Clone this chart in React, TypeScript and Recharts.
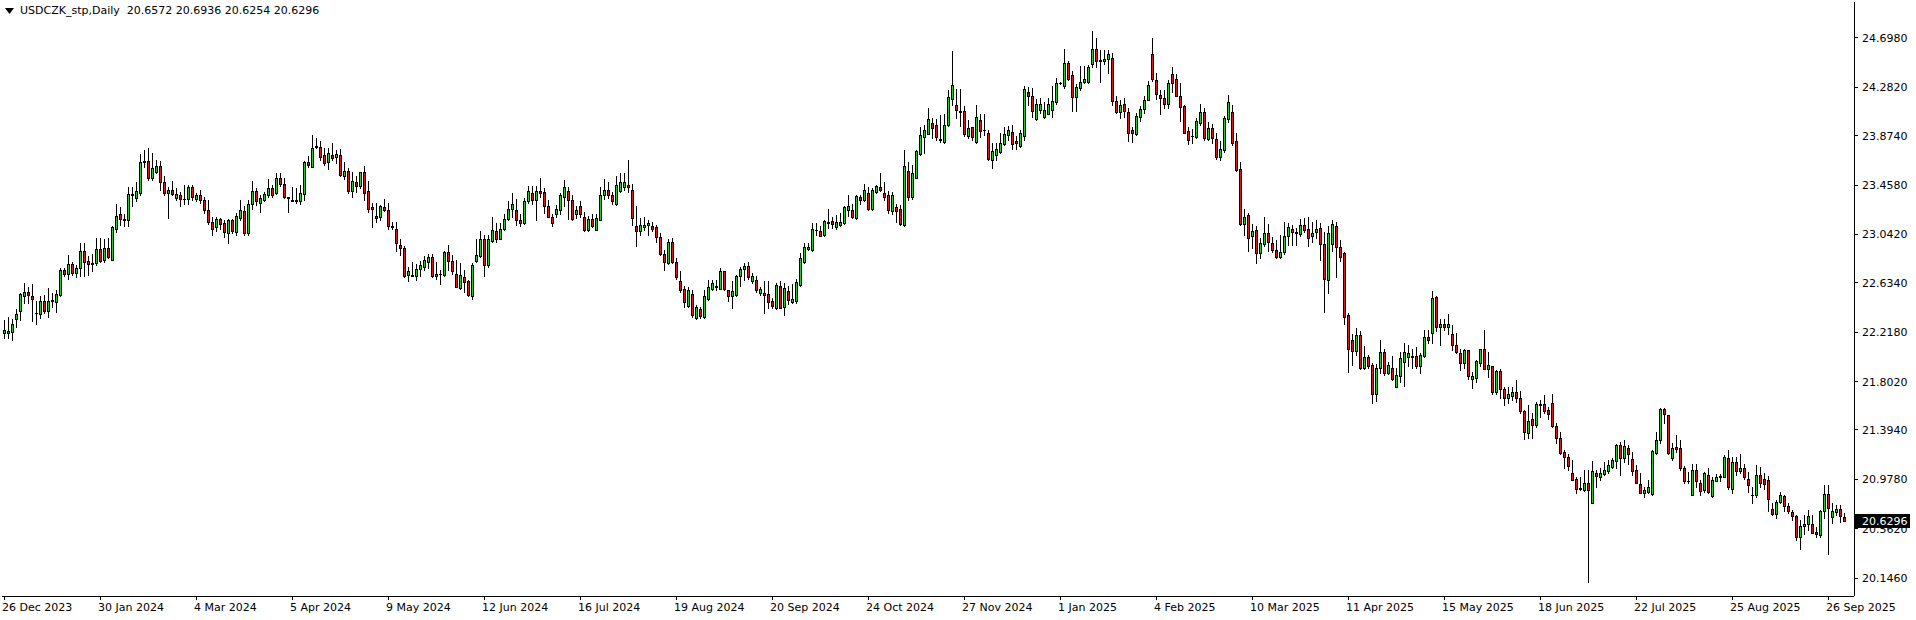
import React from "react";
import { ComposedChart, Bar, XAxis, YAxis } from "recharts";

// USDCZK_stp daily candles: [open, high, low, close]
const ohlc: [number, number, number, number][] = [
  [22.21,22.32,22.17,22.24],[22.21,22.35,22.17,22.23],[22.22,22.33,22.15,22.29],[22.33,22.41,22.26,22.37],[22.40,22.55,22.32,22.54],[22.52,22.63,22.46,22.56],
  [22.56,22.60,22.46,22.53],[22.52,22.62,22.31,22.50],[22.38,22.48,22.29,22.38],[22.37,22.52,22.34,22.48],[22.48,22.53,22.38,22.40],[22.40,22.59,22.35,22.48],
  [22.48,22.55,22.43,22.49],[22.47,22.57,22.39,22.54],[22.53,22.76,22.52,22.74],[22.74,22.76,22.69,22.71],[22.71,22.87,22.67,22.79],[22.79,22.81,22.70,22.72],
  [22.72,22.78,22.68,22.76],[22.76,22.97,22.69,22.90],[22.90,22.97,22.69,22.81],[22.82,22.86,22.70,22.79],[22.79,22.88,22.73,22.80],[22.80,23.01,22.78,22.92],
  [22.92,23.01,22.81,22.82],[22.83,23.00,22.81,22.93],[22.93,23.01,22.84,22.85],[22.83,23.11,22.83,23.10],[23.09,23.30,23.06,23.20],[23.21,23.27,23.12,23.17],
  [23.17,23.21,23.11,23.16],[23.16,23.44,23.11,23.38],[23.375,23.44,23.28,23.385],[23.35,23.48,23.32,23.41],[23.39,23.72,23.37,23.65],[23.65,23.75,23.61,23.66],
  [23.66,23.77,23.50,23.52],[23.52,23.73,23.50,23.60],[23.57,23.67,23.56,23.62],[23.62,23.66,23.42,23.48],[23.48,23.53,23.37,23.39],[23.39,23.44,23.18,23.42],
  [23.42,23.49,23.37,23.38],[23.35,23.43,23.33,23.38],[23.37,23.40,23.28,23.34],[23.34,23.46,23.30,23.34],[23.34,23.46,23.30,23.44],[23.44,23.46,23.33,23.355],
  [23.34,23.39,23.32,23.37],[23.37,23.42,23.31,23.33],[23.33,23.36,23.22,23.25],[23.25,23.33,23.13,23.15],[23.15,23.19,23.04,23.09],[23.10,23.19,23.07,23.17],
  [23.17,23.18,23.09,23.13],[23.14,23.16,23.02,23.06],[23.05,23.17,22.97,23.16],[23.16,23.17,23.05,23.07],[23.06,23.22,23.04,23.20],[23.18,23.33,23.16,23.25],
  [23.24,23.28,23.04,23.05],[23.05,23.33,23.04,23.30],[23.30,23.49,23.26,23.41],[23.41,23.43,23.29,23.32],[23.31,23.37,23.23,23.35],[23.33,23.40,23.32,23.38],
  [23.37,23.51,23.36,23.43],[23.43,23.46,23.36,23.37],[23.39,23.56,23.38,23.52],[23.52,23.56,23.45,23.47],[23.47,23.52,23.35,23.36],[23.355,23.36,23.23,23.35],
  [23.33,23.445,23.32,23.325],[23.33,23.43,23.31,23.32],[23.32,23.46,23.30,23.39],[23.38,23.66,23.33,23.65],[23.65,23.70,23.61,23.63],[23.61,23.88,23.61,23.77],
  [23.78,23.85,23.77,23.79],[23.78,23.83,23.67,23.69],[23.71,23.77,23.63,23.64],[23.65,23.77,23.59,23.73],[23.715,23.81,23.67,23.685],[23.69,23.75,23.64,23.72],
  [23.71,23.76,23.53,23.54],[23.53,23.65,23.51,23.58],[23.58,23.60,23.39,23.41],[23.41,23.57,23.36,23.49],[23.48,23.53,23.40,23.45],[23.45,23.57,23.43,23.57],
  [23.57,23.62,23.33,23.39],[23.41,23.49,23.23,23.26],[23.27,23.31,23.10,23.26],[23.20,23.31,23.15,23.18],[23.19,23.29,23.16,23.28],[23.27,23.34,23.24,23.25],
  [23.25,23.31,23.09,23.11],[23.11,23.15,23.085,23.10],[23.085,23.15,22.90,22.97],[22.953,23.00,22.87,22.925],[22.925,22.94,22.68,22.69],[22.70,22.77,22.65,22.73],
  [22.70,22.81,22.69,22.695],[22.69,22.79,22.66,22.75],[22.75,22.82,22.69,22.78],[22.77,22.86,22.74,22.83],[22.81,22.88,22.76,22.855],[22.85,22.88,22.68,22.69],
  [22.69,22.81,22.67,22.71],[22.709,22.74,22.62,22.705],[22.70,22.90,22.69,22.89],[22.89,22.95,22.74,22.82],[22.82,22.87,22.71,22.73],[22.71,22.83,22.60,22.60],
  [22.59,22.80,22.585,22.70],[22.68,22.74,22.56,22.64],[22.65,22.66,22.52,22.53],[22.52,22.80,22.50,22.785],[22.82,23.00,22.81,22.87],[22.86,23.07,22.855,23.00],
  [23.00,23.04,22.69,22.785],[22.785,23.04,22.77,23.00],[22.99,23.19,22.98,23.08],[23.07,23.14,22.98,23.00],[23.00,23.14,23.00,23.09],[23.09,23.21,23.08,23.17],
  [23.17,23.32,23.16,23.26],[23.26,23.39,23.19,23.30],[23.25,23.34,23.12,23.16],[23.16,23.21,23.11,23.14],[23.14,23.35,23.13,23.32],[23.32,23.45,23.31,23.41],
  [23.39,23.45,23.30,23.33],[23.33,23.45,23.16,23.41],[23.41,23.52,23.36,23.39],[23.40,23.43,23.225,23.28],[23.28,23.33,23.19,23.19],[23.19,23.21,23.11,23.14],
  [23.21,23.29,23.19,23.26],[23.25,23.39,23.21,23.37],[23.36,23.50,23.28,23.44],[23.41,23.445,23.17,23.33],[23.33,23.37,23.16,23.17],[23.21,23.28,23.18,23.25],
  [23.28,23.32,23.19,23.21],[23.19,23.23,23.07,23.08],[23.08,23.20,23.07,23.17],[23.17,23.21,23.10,23.11],[23.08,23.21,23.08,23.18],[23.16,23.445,23.16,23.37],
  [23.37,23.51,23.34,23.42],[23.42,23.48,23.35,23.37],[23.37,23.40,23.30,23.32],[23.30,23.53,23.29,23.46],[23.41,23.56,23.40,23.48],[23.44,23.56,23.42,23.48],
  [23.46,23.67,23.40,23.44],[23.42,23.47,23.12,23.18],[23.11,23.28,22.94,23.07],[23.07,23.18,23.04,23.12],[23.10,23.19,23.08,23.12],[23.12,23.16,23.04,23.14],
  [23.11,23.15,23.07,23.09],[23.10,23.12,22.98,23.02],[23.02,23.05,22.87,22.88],[22.88,22.91,22.74,22.81],[22.80,23.00,22.79,22.98],[22.98,23.01,22.80,22.81],
  [22.81,22.84,22.67,22.68],
  [22.65,22.73,22.56,22.57],[22.58,22.61,22.43,22.47],[22.44,22.60,22.43,22.57],[22.54,22.57,22.35,22.36],[22.335,22.45,22.33,22.43],[22.41,22.43,22.34,22.355],
  [22.345,22.57,22.34,22.52],[22.50,22.66,22.49,22.60],[22.585,22.66,22.575,22.63],[22.605,22.66,22.575,22.60],[22.585,22.76,22.58,22.73],[22.73,22.73,22.575,22.585],
  [22.57,22.575,22.48,22.52],[22.52,22.645,22.42,22.565],[22.53,22.70,22.52,22.69],[22.69,22.765,22.61,22.75],[22.75,22.80,22.66,22.775],[22.775,22.81,22.67,22.68],
  [22.65,22.715,22.635,22.695],[22.66,22.69,22.56,22.57],[22.545,22.60,22.53,22.58],[22.545,22.645,22.38,22.535],[22.54,22.65,22.42,22.475],[22.48,22.505,22.42,22.435],
  [22.42,22.635,22.41,22.615],[22.61,22.645,22.42,22.425],[22.43,22.63,22.36,22.59],[22.565,22.61,22.455,22.485],[22.476,22.62,22.467,22.50],[22.48,22.67,22.467,22.64],
  [22.615,22.885,22.61,22.84],[22.81,22.97,22.80,22.935],[22.915,22.97,22.91,22.935],[22.91,23.135,22.905,23.085],[23.08,23.135,23.04,23.075],[23.07,23.11,23.025,23.03],
  [23.035,23.165,23.03,23.155],[23.14,23.255,23.095,23.15],[23.155,23.19,23.095,23.13],[23.105,23.205,23.085,23.15],[23.125,23.22,23.11,23.15],
  [23.14,23.28,23.13,23.27],[23.25,23.37,23.20,23.28],[23.25,23.30,23.18,23.19],[23.18,23.37,23.17,23.365],[23.355,23.375,23.30,23.33],[23.33,23.47,23.32,23.42],
  [23.39,23.445,23.25,23.26],[23.26,23.43,23.25,23.42],[23.40,23.46,23.39,23.45],[23.44,23.56,23.41,23.42],[23.39,23.48,23.33,23.36],[23.37,23.41,23.22,23.25],
  [23.235,23.40,23.21,23.37],[23.27,23.30,23.15,23.24],[23.26,23.29,23.12,23.13],[23.12,23.75,23.115,23.62],[23.58,23.655,23.33,23.36],[23.355,23.63,23.34,23.56],
  [23.515,23.755,23.515,23.745],[23.72,23.95,23.71,23.88],[23.86,23.965,23.725,23.92],[23.89,24.105,23.89,24.01],[23.98,24.02,23.85,23.94],[23.96,24.01,23.84,23.86],
  [23.845,24.05,23.82,23.84],[23.82,24.06,23.815,23.965],[23.96,24.26,23.955,24.20],[24.18,24.59,24.13,24.30],[24.13,24.265,24.02,24.09],[24.08,24.265,23.955,24.075],
  [24.08,24.12,23.87,23.885],[23.875,24.005,23.85,23.935],[23.945,23.95,23.84,23.86],[23.82,24.13,23.815,24.03],[24.005,24.06,23.865,23.915],[23.925,24.06,23.88,23.92],
  [23.895,23.92,23.67,23.675],[23.665,23.81,23.60,23.745],[23.71,23.815,23.67,23.76],[23.735,23.895,23.725,23.81],[23.805,23.945,23.795,23.885],[23.88,23.955,23.84,23.92],
  [23.905,23.96,23.76,23.80],[23.83,23.87,23.76,23.81],[23.79,23.92,23.775,23.895],[23.87,24.29,23.84,24.27],[24.24,24.28,24.13,24.205],[24.21,24.275,24.03,24.085],
  [24.015,24.185,24.005,24.14],[24.09,24.195,24.065,24.14],[24.035,24.155,24.025,24.09],[24.06,24.195,24.055,24.14],[24.09,24.295,24.035,24.165],[24.155,24.36,24.14,24.315],
  [24.315,24.325,24.31,24.318],[24.29,24.60,24.275,24.485],[24.485,24.505,24.345,24.35],[24.385,24.415,24.085,24.20],[24.20,24.31,24.08,24.285],[24.275,24.46,24.26,24.325],
  [24.33,24.46,24.315,24.355],[24.33,24.47,24.315,24.45],[24.475,24.755,24.45,24.605],[24.605,24.695,24.455,24.50],[24.51,24.595,24.33,24.50],[24.50,24.595,24.475,24.52],
  [24.52,24.595,24.40,24.56],[24.53,24.57,24.135,24.165],[24.165,24.205,24.065,24.07],[24.07,24.175,24.02,24.135],[24.14,24.19,24.035,24.08],[24.07,24.105,23.825,23.895],
  [23.92,23.95,23.82,23.895],[23.885,24.065,23.88,24.04],[24.035,24.12,23.995,24.10],[24.10,24.205,24.065,24.175],[24.175,24.335,24.175,24.30],[24.56,24.695,24.335,24.35],
  [24.345,24.40,24.185,24.225],[24.22,24.26,24.055,24.19],[24.195,24.26,24.105,24.14],[24.14,24.345,24.11,24.315],[24.39,24.45,24.245,24.315],[24.355,24.39,24.205,24.21],
  [24.21,24.315,23.995,24.115],[24.125,24.135,23.895,23.90],[23.91,23.95,23.805,23.835],[23.875,23.93,23.81,23.87],[23.865,24.02,23.855,24.00],[23.98,24.14,23.965,24.075],
  [24.07,24.105,23.84,23.85],[23.845,23.99,23.84,23.935],[23.935,23.975,23.81,23.855],[23.845,23.895,23.675,23.69],[23.69,23.825,23.67,23.76],[23.755,24.04,23.74,24.025],
  [24.015,24.22,23.99,24.155],[24.075,24.135,23.795,23.815],[23.83,23.90,23.58,23.585],[23.595,23.655,23.12,23.13],[23.13,23.255,23.04,23.185],[23.205,23.22,22.90,23.01],
  [23.025,23.13,22.925,23.07],[23.08,23.11,22.805,22.885],[22.885,23.01,22.84,22.97],[22.96,23.185,22.945,23.05],[23.05,23.13,22.905,22.98],[22.97,23.02,22.895,22.91],
  [22.91,22.995,22.845,22.855],[22.85,23.04,22.84,22.895],[22.895,23.15,22.88,23.03],[23.025,23.14,22.955,23.10],[23.09,23.12,22.955,23.065],[23.062,23.095,22.955,23.055],
  [23.045,23.17,23.025,23.12],[23.12,23.18,23.06,23.08],[23.085,23.185,22.94,23.01],[23.025,23.145,22.98,23.055],[23.065,23.165,23.01,23.085],[23.095,23.135,22.825,22.96],
  [22.96,23.065,22.39,22.665],[22.66,23.115,22.55,23.055],[22.96,23.165,22.905,23.13],[23.115,23.15,22.68,22.935],[22.935,22.995,22.815,22.855],[22.885,22.89,22.29,22.35],
  [22.36,22.38,21.885,22.08],[22.155,22.20,21.94,22.06],[22.06,22.25,22.025,22.19],[22.19,22.23,21.905,21.915],[21.915,22.10,21.905,22.005],[22.01,22.025,21.92,21.935],
  [21.945,21.955,21.625,21.695],[21.695,21.95,21.64,21.915],[21.915,22.155,21.875,22.05],[22.05,22.075,21.855,21.875],[21.875,21.97,21.865,21.94],[21.915,22.02,21.815,21.82],
  [21.755,21.92,21.755,21.855],[21.85,22.055,21.80,22.00],[21.965,22.125,21.765,22.05],[22.01,22.11,21.93,22.04],[22.015,22.075,21.915,22.005],[22.015,22.09,21.92,21.93],
  [21.93,22.04,21.875,22.025],[22.02,22.235,22.01,22.175],[22.175,22.235,22.125,22.15],[22.215,22.565,22.125,22.51],[22.515,22.525,22.23,22.26],[22.26,22.325,22.11,22.29],
  [22.29,22.325,22.235,22.265],[22.265,22.37,22.20,22.29],[22.20,22.28,22.065,22.11],[22.11,22.21,22.045,22.055],[22.045,22.08,21.90,21.955],[21.955,22.08,21.915,22.065],
  [22.065,22.07,21.82,21.845],[21.82,21.885,21.745,21.845],[21.835,21.985,21.80,21.975],[21.96,22.08,21.93,22.075],[22.075,22.235,21.905,21.905],[21.905,22.05,21.84,21.94],
  [21.93,21.93,21.70,21.715],[21.715,21.90,21.70,21.89],[21.89,21.905,21.66,21.735],[21.74,21.76,21.605,21.66],[21.66,21.76,21.62,21.70],[21.68,21.76,21.645,21.71],
  [21.71,21.815,21.63,21.66],[21.66,21.72,21.535,21.55],[21.555,21.56,21.315,21.38],[21.37,21.605,21.33,21.47],[21.49,21.535,21.33,21.435],[21.435,21.63,21.42,21.61],
  [21.61,21.645,21.505,21.605],[21.615,21.69,21.535,21.555],[21.56,21.59,21.49,21.525],[21.625,21.70,21.42,21.43],[21.43,21.455,21.285,21.33],[21.33,21.38,21.195,21.20],
  [21.21,21.225,21.07,21.165],[21.165,21.195,21.06,21.09],[21.03,21.14,20.97,20.97],[20.98,21.00,20.865,20.90],[20.905,20.995,20.885,20.895],[20.89,21.055,20.88,20.945],
  [20.945,21.055,20.11,20.89],[20.78,21.13,20.78,21.05],[21.035,21.055,20.915,21.005],[20.995,21.07,20.97,21.03],[21.02,21.125,21.015,21.055],[21.045,21.14,21.035,21.10],
  [21.08,21.16,21.07,21.14],[21.135,21.275,21.07,21.265],[21.265,21.295,21.015,21.155],[21.155,21.31,21.125,21.26],[21.245,21.27,21.11,21.19],[21.15,21.21,21.015,21.05],
  [21.055,21.10,20.945,20.945],[20.935,21.03,20.865,20.865],[20.865,20.915,20.83,20.89],[20.875,20.97,20.86,20.91],[20.855,21.225,20.845,21.22],[21.20,21.38,21.195,21.31],
  [21.31,21.575,21.28,21.57],[21.57,21.575,21.45,21.525],[21.52,21.52,21.195,21.20],[21.155,21.28,21.14,21.24],[21.25,21.35,21.21,21.235],[21.24,21.31,21.055,21.07],
  [21.07,21.09,20.945,20.96],[20.965,21.04,20.945,20.96],[20.85,21.11,20.845,21.06],[21.06,21.11,20.915,20.96],[20.95,20.97,20.845,20.88],[20.89,21.04,20.875,21.03],
  [21.015,21.07,20.86,20.875],[20.84,21.00,20.83,20.975],[20.965,21.02,20.96,20.995],[21.003,21.02,20.96,21.0],[21.00,21.185,20.995,21.165],[21.155,21.225,20.90,20.91],
  [20.895,21.17,20.86,21.12],[21.12,21.17,21.015,21.05],[21.045,21.195,21.03,21.07],[21.07,21.11,20.98,20.995],[20.985,21.04,20.875,20.93],[20.85,20.915,20.775,20.845],
  [20.845,21.10,20.83,21.015],[21.015,21.085,20.915,20.945],[20.985,21.03,20.895,20.94],[20.97,21.005,20.715,20.81],[20.73,20.775,20.68,20.685],[20.685,20.80,20.65,20.785],
  [20.785,20.875,20.775,20.845],[20.835,20.845,20.715,20.755],[20.755,20.775,20.695,20.715],[20.70,20.72,20.635,20.665],[20.67,20.68,20.465,20.49],[20.49,20.635,20.395,20.585],
  [20.585,20.68,20.52,20.605],[20.60,20.72,20.555,20.67],[20.60,20.68,20.53,20.53],[20.535,20.58,20.495,20.515],[20.51,20.72,20.495,20.71],[20.71,20.93,20.65,20.855],
  [20.855,20.93,20.35,20.735],[20.66,20.775,20.61,20.71],[20.705,20.76,20.675,20.725],[20.725,20.76,20.62,20.67],[20.6572,20.6936,20.6254,20.6296],
];

// bar index where each date label sits
const dateTickIndex = [0, 24, 48, 72, 96, 120, 144, 168, 192, 216, 240, 264, 288, 312, 336, 360, 384, 408, 432, 456];
const dateLabels = [
  "26 Dec 2023", "30 Jan 2024", "4 Mar 2024", "5 Apr 2024", "9 May 2024", "12 Jun 2024", "16 Jul 2024",
  "19 Aug 2024", "20 Sep 2024", "24 Oct 2024", "27 Nov 2024", "1 Jan 2025", "4 Feb 2025", "10 Mar 2025",
  "11 Apr 2025", "15 May 2025", "18 Jun 2025", "22 Jul 2025", "25 Aug 2025", "26 Sep 2025",
];
const priceTicks = [24.698, 24.282, 23.874, 23.458, 23.042, 22.634, 22.218, 21.802, 21.394, 20.978, 20.562, 20.146];
const priceDomain = [19.995, 25.0];
const symbol = "USDCZK_stp,Daily";
const emptySlots = 2; // chart shift on the right

const FONT = "DejaVu Sans";
const UP = "#2ec52e";
const DOWN = "#d11a1a";

const last = ohlc[ohlc.length - 1];
const lastClose = last[3];

const data = [
  ...ohlc.map(([o, h, l, c], i) => ({ i, o, h, l, c, range: [l, h] })),
  ...Array.from({ length: emptySlots }, (_, k) => ({ i: ohlc.length + k, range: null as any })),
];

function Candle(props: any) {
  const { x, y, width, height, payload } = props;
  if (!payload || payload.o == null) return null;
  const { o, h, l, c } = payload;
  const top = Math.min(y, y + height);
  const bot = Math.max(y, y + height);
  const span = h - l || 1;
  const py = (p: number) => top + ((h - p) / span) * (bot - top);
  const cx = Math.floor(x + width / 2);
  const yH = Math.round(py(h));
  const yL = Math.round(py(l));
  const yT = Math.round(py(Math.max(o, c)));
  const yB = Math.round(py(Math.min(o, c)));
  const fill = c >= o ? UP : DOWN;
  return (
    <g>
      <line x1={cx + 0.5} x2={cx + 0.5} y1={yH} y2={yL + 1} stroke="#000" strokeWidth={1} />
      {yB - yT < 1 ? (
        <line x1={cx - 1} x2={cx + 2} y1={yT + 0.5} y2={yT + 0.5} stroke="#000" strokeWidth={1} />
      ) : (
        <rect x={cx - 0.5} y={yT + 0.5} width={2} height={yB - yT} fill={fill} stroke="#000" strokeWidth={1} />
      )}
    </g>
  );
}

function DateTick(props: any) {
  const { x, y, payload } = props;
  const k = dateTickIndex.indexOf(payload.value);
  if (k < 0) return null;
  return (
    <g>
      <line x1={x + 0.5} x2={x + 0.5} y1={596} y2={600} stroke="#000" />
      <text x={x - 2} y={y + 9} textAnchor="start" fontSize={11} fontFamily={FONT} fill="#000">
        {dateLabels[k]}
      </text>
    </g>
  );
}

function PriceTick(props: any) {
  const { x, y, payload } = props;
  const v = payload.value as number;
  if (v === lastClose) {
    return (
      <g>
        <rect x={x - 8} y={y - 7} width={56} height={14} fill="#000" />
        <text x={x} y={y + 4} textAnchor="start" fontSize={11} fontFamily={FONT} fill="#fff">
          {v.toFixed(4)}
        </text>
      </g>
    );
  }
  return (
    <text x={x} y={y + 4} textAnchor="start" fontSize={11} fontFamily={FONT} fill="#000">
      {v.toFixed(4)}
    </text>
  );
}

export default function App() {
  return (
    <div style={{ position: "relative", width: 1916, height: 620, background: "#fff" }}>
      <style>{`body{margin:0} .recharts-surface line, .recharts-surface rect { shape-rendering: crispEdges; }`}</style>
      <ComposedChart
        width={1916}
        height={620}
        data={data}
        margin={{ top: 2, right: 0, left: 2, bottom: 0 }}
        barCategoryGap={0}
      >
        <XAxis xAxisId="top" orientation="top" dataKey="i" height={0} tick={false} tickLine={false} axisLine={{ stroke: "#000" }} />
        <XAxis
          xAxisId="d"
          dataKey="i"
          height={24}
          interval={0}
          tick={<DateTick />}
          tickLine={false}
          tickSize={4}
          axisLine={{ stroke: "#000" }}
        />
        <YAxis yAxisId="frame" orientation="left" width={0} tick={false} tickLine={false} axisLine={{ stroke: "#000" }} />
        <YAxis
          yAxisId="p"
          orientation="right"
          domain={priceDomain}
          allowDataOverflow
          ticks={[...priceTicks, lastClose]}
          interval={0}
          width={62}
          tickSize={4}
          tickMargin={4}
          tick={<PriceTick />}
          tickLine={{ stroke: "#000" }}
          axisLine={{ stroke: "#000" }}
        />
        <Bar xAxisId="d" yAxisId="p" dataKey="range" shape={<Candle />} isAnimationActive={false} />
      </ComposedChart>
      <div
        style={{
          position: "absolute",
          left: 5,
          top: 4,
          fontFamily: FONT,
          fontSize: 11,
          color: "#000",
          whiteSpace: "pre",
          display: "flex",
          alignItems: "center",
        }}
      >
        <svg width={9} height={6} style={{ marginRight: 6 }}>
          <polygon points="0,0 9,0 4.5,6" fill="#000" />
        </svg>
        {`${symbol}  ${last.map((v) => v.toFixed(4)).join(" ")}`}
      </div>
    </div>
  );
}
